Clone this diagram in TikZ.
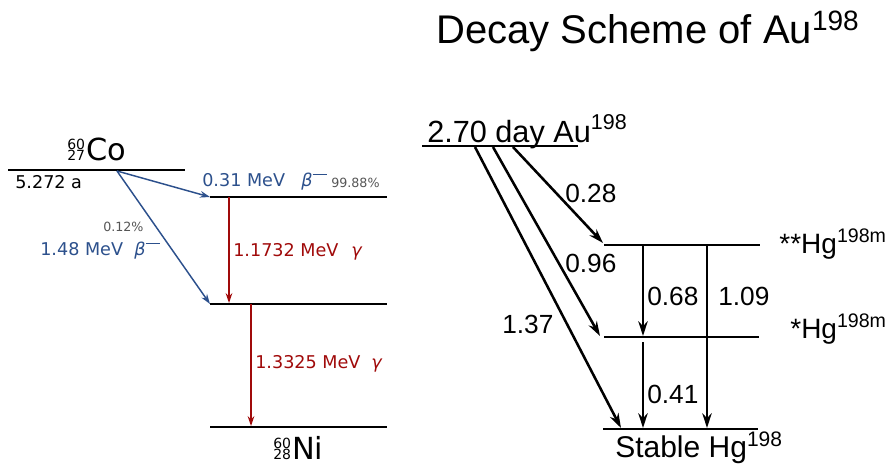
\documentclass[tikz,border=0pt]{standalone}
\usepackage{fontspec}
\setmainfont{DejaVu Sans}
\newfontfamily\arialfont{Liberation Sans}
\usepackage{xcolor}
\usetikzlibrary{arrows.meta}
\definecolor{decayBlue}{HTML}{2C508C}
\definecolor{decayRed}{HTML}{A00A0A}
\definecolor{decayGray}{HTML}{555555}
\newcommand{\setsize}[1]{\fontsize{#1}{#1}\selectfont}
\newcommand{\betaminus}{{\itshape β}\rule[8pt]{10.5pt}{1.1pt}}
\newcommand{\nucl}[3]{{\setsize{10.5}\makebox[0pt][l]{\raisebox{8.25pt}{#1}}#2}\hspace{0.8pt}#3}

\begin{document}
\begin{tikzpicture}[
  x=0.75pt,
  y=-0.75pt,
  level/.style={line width=1.4pt},
  hglevel/.style={line width=2.2pt},
  betaarrow/.style={-{Stealth[length=7.5pt,width=5pt]},draw=decayBlue,line width=1.1pt},
  gammaarrow/.style={-{Stealth[length=7.5pt,width=5pt]},draw=decayRed,line width=1.1pt},
  auarrow/.style={-{Stealth[length=11pt,width=7pt]},line width=1.9pt},
  lbl/.style={anchor=base west,inner sep=0pt},
  rlbl/.style={anchor=base east,inner sep=0pt},
  mev/.style={lbl,font=\setsize{13.2}},
  pct/.style={lbl,font=\setsize{9.5},text=decayGray},
  nuc/.style={lbl,font=\setsize{22.8}},
  energy/.style={lbl,font=\arialfont\setsize{19.7}},
  hgname/.style={font=\arialfont\setsize{21}}
]
\useasboundingbox (0,0) rectangle (892,465);

% Co-60 scheme.
\coordinate (co-l) at (8,170);
\coordinate (co-r) at (185,170);
\coordinate (co-src) at (117,171);
\coordinate (lv1-l) at (210,197);
\coordinate (lv1-r) at (387,197);
\coordinate (lv2-l) at (210,304);
\coordinate (lv2-r) at (387,304);
\coordinate (ni-l) at (210,427);
\coordinate (ni-r) at (387,427);
\coordinate (g1-top) at (229,197);
\coordinate (g1-bot) at (229,303);
\coordinate (g2-top) at (251,304);
\coordinate (g2-bot) at (251,426);

\draw[level] (co-l) -- (co-r);
\draw[level] (lv1-l) -- (lv1-r);
\draw[level] (lv2-l) -- (lv2-r);
\draw[level] (ni-l) -- (ni-r);

\node[nuc] (co) at (67,160) {\nucl{60}{27}{Co}};
\node[mev] (cohalf) at (15,188) {5.272 a};
\node[nuc] (ni) at (273,459) {\nucl{60}{28}{Ni}};

\draw[betaarrow] (co-src) -- (lv1-l);
\draw[betaarrow] (co-src) -- (lv2-l);
\draw[gammaarrow] (g1-top) -- (g1-bot);
\draw[gammaarrow] (g2-top) -- (g2-bot);

\node[mev,text=decayBlue] (b1e) at (202,186) {0.31 MeV};
\node[mev,text=decayBlue] (b1s) at (301,186) {\betaminus};
\node[pct] (b1p) at (331,187) {99.88\%};
\node[pct] (b2p) at (103,231) {0.12\%};
\node[mev,text=decayBlue] (b2e) at (40,255) {1.48 MeV};
\node[mev,text=decayBlue] (b2s) at (134,255) {\betaminus};
\node[mev,text=decayRed] (g1e) at (233,256) {1.1732 MeV};
\node[mev,text=decayRed] (g1s) at (351,256) {\itshape γ};
\node[mev,text=decayRed] (g2e) at (255,368) {1.3325 MeV};
\node[mev,text=decayRed] (g2s) at (371,368) {\itshape γ};

% Au-198 scheme.
\node[lbl,font=\arialfont\setsize{30}] (title) at (436,43) {Decay Scheme of Au\textsuperscript{198}};

\coordinate (au-l) at (422,146);
\coordinate (au-r) at (578,146);
\coordinate (au-a) at (475,147);
\coordinate (au-b) at (493,147);
\coordinate (au-c) at (513,147);
\coordinate (hgb-l) at (604,245);
\coordinate (hgb-r) at (760,245);
\coordinate (hga-l) at (604,337);
\coordinate (hga-r) at (759,337);
\coordinate (hg-l) at (603,429);
\coordinate (hg-r) at (758,429);
\coordinate (c-end) at (603,243);
\coordinate (b-end) at (600,336);
\coordinate (a-end) at (621,428);
\coordinate (t1-top) at (643,245);
\coordinate (t1-bot) at (643,336);
\coordinate (t2-top) at (707,245);
\coordinate (t2-bot) at (707,428);
\coordinate (t3-top) at (643,342);
\coordinate (t3-bot) at (643,428);

\node[lbl,font=\arialfont\setsize{23}] (au) at (427,142) {2.70 day Au\textsuperscript{198}};
\draw[hglevel] (au-l) -- (au-r);
\draw[hglevel] (hgb-l) -- (hgb-r);
\draw[hglevel] (hga-l) -- (hga-r);
\draw[hglevel] (hg-l) -- (hg-r);

\draw[auarrow] (au-c) -- (c-end);
\draw[auarrow] (au-b) -- (b-end);
\draw[auarrow] (au-a) -- (a-end);
\draw[auarrow] (t1-top) -- (t1-bot);
\draw[auarrow] (t2-top) -- (t2-bot);
\draw[auarrow] (t3-top) -- (t3-bot);

\node[energy] (e028) at (565,202) {0.28};
\node[energy] (e096) at (565,272) {0.96};
\node[energy] (e137) at (502,333) {1.37};
\node[energy] (e068) at (647,305) {0.68};
\node[energy] (e109) at (718,305) {1.09};
\node[energy] (e041) at (647,403) {0.41};

\node[rlbl,hgname] (hgb) at (887,253) {**Hg\textsuperscript{198m}};
\node[rlbl,hgname] (hga) at (887,338) {*Hg\textsuperscript{198m}};
\node[lbl,font=\arialfont\setsize{22.5}] (hg) at (615,457) {Stable Hg\textsuperscript{198}};

\end{tikzpicture}
\end{document}
